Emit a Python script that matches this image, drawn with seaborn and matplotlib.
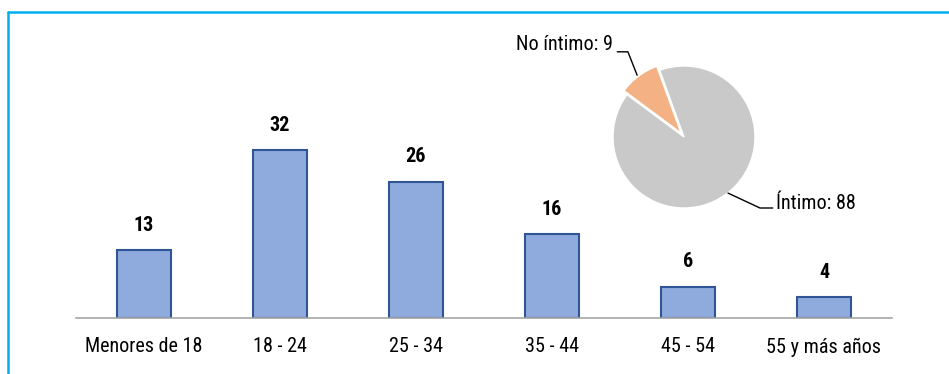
import matplotlib
matplotlib.use("Agg")
import matplotlib.pyplot as plt
from matplotlib import font_manager as fm
from matplotlib.lines import Line2D
import seaborn as sns
import pandas as pd

# data
age_groups = ["Menores de 18", "18 - 24", "25 - 34", "35 - 44", "45 - 54", "55 y más años"]
age_counts = [13, 32, 26, 16, 6, 4]
rel_labels = ["No íntimo", "Íntimo"]
rel_counts = [9, 88]

sns.set_style("white")
installed = {f.name for f in fm.fontManager.ttflist}
narrow = [f for f in ["Arial Narrow", "Liberation Sans Narrow", "Roboto Condensed",
                      "Archivo Narrow", "Barlow Semi Condensed"] if f in installed]
plt.rcParams['font.family'] = narrow[:1] + ['Liberation Sans', 'DejaVu Sans']
plt.rcParams['text.color'] = 'black'
plt.rcParams['xtick.color'] = 'black'
FS = 14.5

W, H = 949, 374
fig = plt.figure(figsize=(W / 100, H / 100), dpi=100)

# bar chart
ax = fig.add_axes([76 / W, (H - 318) / H, 816 / W, 210 / H])
df = pd.DataFrame({"grupo": age_groups, "n": age_counts})
sns.barplot(data=df, x="grupo", y="n", color="#8FAADC", width=0.4,
            edgecolor="#2F5597", linewidth=1.5, saturation=1, ax=ax)
ax.set_ylim(0, 40)
ax.set_xlim(-0.5, len(age_groups) - 0.5)
for i, v in enumerate(age_counts):
    ax.text(i, v + 2.9, str(v), ha="center", va="bottom", fontsize=FS, fontweight="bold")
ax.set_xlabel("")
ax.set_ylabel("")
ax.set_yticks([])
for s in ["top", "right", "left"]:
    ax.spines[s].set_visible(False)
ax.spines["bottom"].set_color("#A6A6A6")
ax.spines["bottom"].set_linewidth(1.2)
ax.set_xticks(range(len(age_groups)))
ax.set_xticklabels(age_groups, fontsize=FS)
ax.set_xticks([i - 0.5 for i in range(len(age_groups) + 1)], minor=True)
ax.tick_params(axis="x", which="major", length=0, pad=14)
ax.tick_params(axis="x", which="minor", length=5, color="#A6A6A6", width=1.2, direction="out")
ax.patch.set_alpha(0)

# pie chart
r = 71
side = 2 * r * 1.5
pax = fig.add_axes([(684 - side / 2) / W, (H - 137 - side / 2) / H, side / W, side / H])
pax.pie(rel_counts, colors=["#F4B183", "#C9C9C9"], startangle=110, explode=[0.07, 0],
        wedgeprops=dict(edgecolor="white", linewidth=1))
pax.set_xlim(-1.5, 1.5)
pax.set_ylim(-1.5, 1.5)
pax.set_aspect("equal")
pax.axis("off")
pax.text(-1.0, 1.30, f"{rel_labels[0]}: {rel_counts[0]}", ha="right", va="center", fontsize=FS)
pax.plot([-0.94, -0.79, -0.66], [1.20, 1.20, 0.87], color="black", lw=1)
pax.text(1.30, -0.93, f"{rel_labels[1]}: {rel_counts[1]}", ha="left", va="center", fontsize=FS)
pax.plot([0.62, 1.07, 1.25], [-0.79, -1.00, -1.00], color="black", lw=1)

# frame
fig.add_artist(Line2D([8 / W, 1], [(H - 12) / H, (H - 12) / H], color="#00B0F0", lw=1.8))
fig.add_artist(Line2D([8 / W, 8 / W], [0, (H - 12) / H], color="#00B0F0", lw=1.8))

fig.savefig("out.png", dpi=100)
